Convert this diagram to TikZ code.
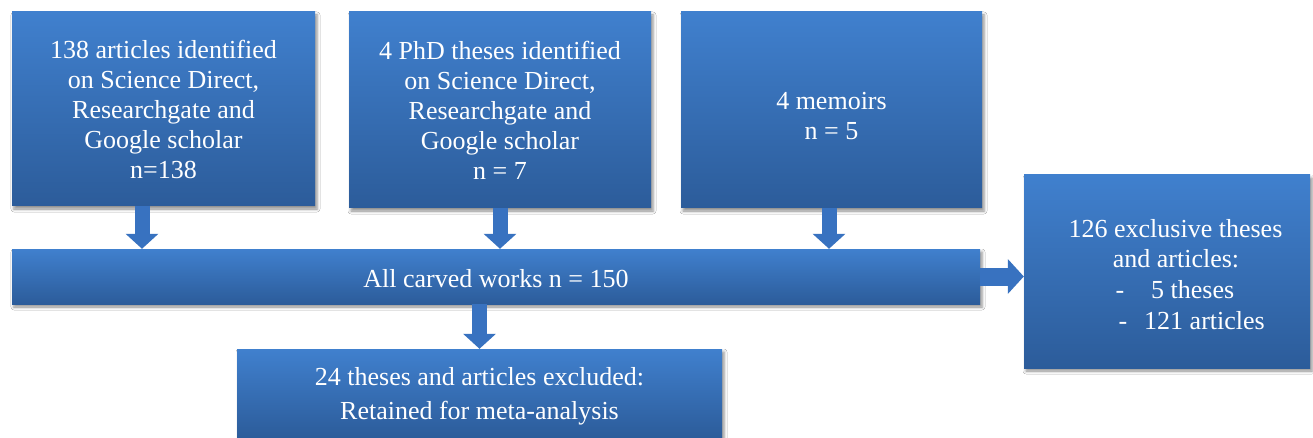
\documentclass[tikz,border=0pt]{standalone}
\usepackage{fontspec}
\setmainfont{Liberation Serif}
\usetikzlibrary{arrows.meta,shadows.blur}
\definecolor{boxtop}{RGB}{64,128,206}
\definecolor{boxbot}{RGB}{44,92,154}
\definecolor{arrowblue}{RGB}{56,114,192}
\tikzset{
  flowbox/.style={draw=none, top color=boxtop, bottom color=boxbot,
    text=white, align=center, inner sep=0pt,
    font=\fontsize{26}{30}\selectfont,
    blur shadow={shadow xshift=2pt, shadow yshift=-3pt,
      shadow blur radius=3pt, shadow opacity=45}},
  boxtext/.style={text=white, align=center, font=\fontsize{26}{30}\selectfont, inner sep=0pt},
  downarrow/.style={draw=arrowblue, line width=15pt,
    -{Triangle[width=32pt,length=15pt]}},
  sidearrow/.style={draw=arrowblue, line width=18pt,
    -{Triangle[width=34pt,length=16pt]}}
}
\begin{document}
\begin{tikzpicture}[x=1pt,y=-1pt]
\useasboundingbox[fill=white] (0,0) rectangle (1313,438);

% source boxes
\node[flowbox, minimum width=303pt, minimum height=194pt] (srcA) at (163.5,109)
  {138 articles identified\\on Science Direct,\\Researchgate and\\Google scholar\\n=138};
\node[flowbox, minimum width=302pt, minimum height=196pt] (srcB) at (500,110)
  {4 PhD theses identified\\on Science Direct,\\Researchgate and\\Google scholar\\n = 7};
\node[flowbox, minimum width=301pt, minimum height=196pt] (srcC) at (831.5,110) {};
\node[boxtext] (srcCtext) at (831.5,116) {4 memoirs\\n = 5};

% pooled bar
\node[flowbox, minimum width=968pt, minimum height=55pt] (pool) at (496,276.5) {};
\node[boxtext] (pooltext) at (496,278.5) {All carved works n = 150};

% exclusive works
\node[flowbox, minimum width=286pt, minimum height=193pt] (excl) at (1167,271.5) {};
\node[boxtext, anchor=mid] (ex1) at (1175.5,235) {126 exclusive theses};
\node[boxtext, anchor=mid] (ex2) at (1176,265) {and articles:};
\node[boxtext, anchor=mid] (ex3a) at (1120,296) {-};
\node[boxtext, anchor=mid west] (ex3b) at (1151,296) {5 theses};
\node[boxtext, anchor=mid] (ex4a) at (1123,327) {-};
\node[boxtext, anchor=mid west] (ex4b) at (1144,327) {121 articles};

% retained works
\node[flowbox, minimum width=485pt, minimum height=89pt] (kept) at (479.5,393.5) {};
\node[boxtext] (kepttext) at (479.5,396) {24 theses and articles excluded:\\[4pt]Retained for meta-analysis};

% connectors
\draw[downarrow] (srcA.south -| 142,0) -- (pool.north -| 142,0);
\draw[downarrow] (srcB.south) -- (srcB.south |- pool.north);
\draw[downarrow] (srcC.south -| 829,0) -- (pool.north -| 829,0);
\draw[downarrow] (pool.south -| kept.north) -- (kept.north);
\draw[sidearrow] (pool.east) -- (pool.east -| excl.west);
\end{tikzpicture}
\end{document}
